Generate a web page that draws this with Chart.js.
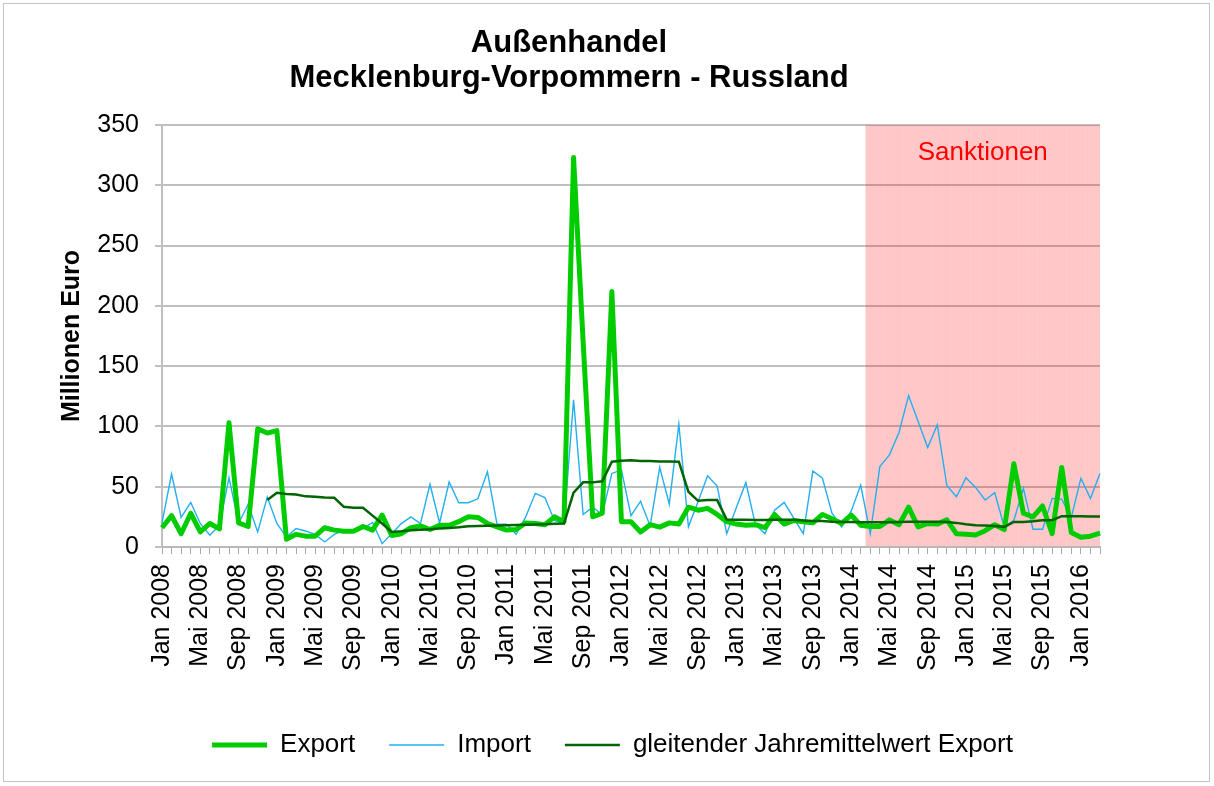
<!DOCTYPE html>
<html lang="de">
<head>
<meta charset="utf-8">
<title>Außenhandel Mecklenburg-Vorpommern - Russland</title>
<script src="https://cdn.jsdelivr.net/npm/chart.js@4.4.1/dist/chart.umd.min.js"></script>
<style>
    html, body { margin: 0; padding: 0; background: #fff; }
    #wrap { position: relative; width: 1214px; height: 786px; overflow: hidden; }
    #chart { position: absolute; left: 0; top: 0; }
    #title {
        position: absolute; left: 0; top: 24px; width: 1138px;
        text-align: center; color: #000;
        font: bold 31px/35px "Liberation Sans", Arial, sans-serif;
    }
    #frame {
        position: absolute; left: 3px; top: 3px; width: 1205px; height: 777px;
        border: 1px solid #c4c4c4; pointer-events: none;
    }
</style>
</head>
<body>
<div id="wrap">
    <canvas id="chart" width="1214" height="786"></canvas>
    <div id="title">Außenhandel<br>Mecklenburg-Vorpommern - Russland</div>
    <div id="frame"></div>
</div>
<script>
// Monate Jan 2008 - Mär 2016
const monatsNamen = ["Jan", "Feb", "Mär", "Apr", "Mai", "Jun", "Jul", "Aug", "Sep", "Okt", "Nov", "Dez"];
const jahre = [2008, 2009, 2010, 2011, 2012, 2013, 2014, 2015, 2016];
const letzterMonat = "Mär 2016";
const sanktionenAb = "Mär 2014";

const monate = [];
jahre.forEach(jahr => {
    monatsNamen.forEach(m => {
        if (monate[monate.length - 1] !== letzterMonat) monate.push(m + " " + jahr);
    });
});

// Millionen Euro
const exportWerte = [
    16, 26, 11, 28, 12.5, 19.5, 15, 103, 20, 17, 98, 94.5,
    96.5, 6.5, 10.5, 9, 9, 16, 14, 13, 13, 17, 14, 26.5,
    9.5, 11, 16, 17.5, 14.5, 18, 18, 21, 25, 24.5, 19.5, 16.7,
    14, 14.5, 20, 19.5, 18.5, 25, 21, 323, 170, 25, 28, 212,
    21, 21, 12.5, 18.5, 16.5, 20, 19, 33, 30.5, 32, 27, 21,
    19, 18, 18.5, 16, 27, 19, 22, 21, 20, 27, 23.5, 19.5,
    26.5, 18, 17, 17, 22.5, 18.5, 33, 16.7, 19.5, 19, 22.5, 11,
    10.5, 10, 13.5, 18.5, 14.5, 69, 28, 25, 34, 11, 66, 12,
    8, 9, 11.5
];

const importWerte = [
    20, 60.5, 24.5, 37, 19.5, 9.7, 18, 57.5, 19.5, 35.5, 12.5, 41.5,
    19.5, 8.3, 15.3, 13.3, 10.5, 4.2, 10.5, 14, 14, 15.3, 20.3, 2.8,
    11, 19.4, 25, 19.4, 52, 20, 54, 36.7, 36.7, 40, 62.5, 19,
    19, 10.5, 25, 44.5, 41, 22, 19, 122, 27, 33, 27, 61,
    64, 26, 38, 17.5, 66, 35.5, 102, 16.7, 37.5, 59, 50.6, 11,
    32.5, 53.5, 18.6, 11, 30.6, 37, 24, 11, 63, 57, 28, 16.7,
    29.7, 51.4, 11, 66.7, 76.4, 95, 125.6, 104, 82.5, 101.4, 51, 41.7,
    57.5, 49.4, 39, 45, 16.7, 22.2, 48.6, 14.7, 14.7, 40.3, 39.7, 24.4,
    57, 40.3, 61
];

const jahresmittelExport = [
    null, null, null, null, null, null, null, null, null, null, null, 39,
    45, 44, 43.6, 42, 41.7, 41, 40.8, 33.3, 32.5, 32.5, 26, 19.5,
    12.5, 13, 13.9, 14.4, 14.7, 15.3, 15.8, 16.4, 17.2, 17.5, 17.6, 17.8,
    18, 18.2, 18.4, 18.6, 18.8, 19.2, 19.4, 45, 53.6, 53.6, 54.5, 70.8,
    71.5, 72, 71.4, 71.3, 71, 71, 70.8, 45.8, 38.3, 38.9, 38.9, 22.8,
    22.5, 22.5, 22.3, 22.3, 22.5, 22.5, 22.5, 22, 21.5, 21.5, 21, 20.8,
    20.8, 20.5, 20.5, 20.5, 20.5, 20.7, 21, 21, 21, 21, 20.8, 20,
    18.9, 18, 17.8, 17.5, 16.7, 20.8, 20.8, 21.4, 22.2, 22.2, 25.6, 25.6,
    25.6, 25.3, 25.3
];

const yMax = 350;
const sanktionMonate = monate.slice(monate.indexOf(sanktionenAb));

Chart.defaults.font.family = '"Liberation Sans", Arial, sans-serif';
Chart.defaults.color = "#000";

const sanktionenText = {
    id: "sanktionenText",
    afterDatasetsDraw(chart) {
        const bars = chart.getDatasetMeta(3).data;
        if (!bars.length) return;
        const area = chart.chartArea;
        const left = bars[0].x - bars[0].width / 2;
        const ctx = chart.ctx;
        ctx.save();
        ctx.font = '26px "Liberation Sans", Arial, sans-serif';
        ctx.fillStyle = "#ff0000";
        ctx.textAlign = "center";
        ctx.textBaseline = "middle";
        ctx.fillText("Sanktionen", (left + area.right) / 2, area.top + 27.5);
        ctx.restore();
    }
};

const ctx = document.getElementById("chart").getContext("2d");

new Chart(ctx, {
    type: "line",
    data: {
        labels: monate,
        datasets: [
            {
                label: "Export",
                data: exportWerte,
                borderColor: "#00cc00",
                backgroundColor: "#00cc00",
                borderWidth: 5,
                borderJoinStyle: "round",
                pointRadius: 0,
                tension: 0,
                order: 1
            },
            {
                label: "Import",
                data: importWerte,
                borderColor: "#22aff0",
                backgroundColor: "#22aff0",
                borderWidth: 1.4,
                pointRadius: 0,
                tension: 0,
                order: 2
            },
            {
                label: "gleitender Jahremittelwert Export",
                data: jahresmittelExport,
                borderColor: "#006400",
                backgroundColor: "#006400",
                borderWidth: 2.5,
                pointRadius: 0,
                tension: 0,
                spanGaps: false,
                order: 0
            },
            {
                type: "bar",
                label: "Sanktionen",
                data: sanktionMonate.map(m => ({ x: m, y: yMax })),
                backgroundColor: "rgba(255, 0, 0, 0.22)",
                borderWidth: 0,
                barPercentage: 1,
                categoryPercentage: 1,
                inflateAmount: 0,
                clip: 0,
                order: 3
            }
        ]
    },
    options: {
        responsive: false,
        animation: false,
        layout: { padding: { top: 125, left: 11, right: 0, bottom: 18 } },
        plugins: {
            title: { display: false },
            tooltip: { enabled: false },
            legend: {
                position: "bottom",
                fullSize: true,
                labels: {
                    usePointStyle: true,
                    pointStyle: "line",
                    pointStyleWidth: 55,
                    padding: 34,
                    color: "#000",
                    font: { size: 26 },
                    filter: item => item.datasetIndex !== 3,
                    sort: (a, b) => a.datasetIndex - b.datasetIndex
                }
            }
        },
        scales: {
            x: {
                type: "category",
                offset: false,
                grid: {
                    offset: false,
                    drawOnChartArea: false,
                    tickLength: 7,
                    color: "#a8a8a8",
                    lineWidth: 1
                },
                border: { color: "#b8b8b8", width: 2 },
                ticks: {
                    autoSkip: false,
                    maxRotation: 90,
                    minRotation: 90,
                    padding: 10,
                    color: "#000",
                    font: { size: 25 },
                    callback: (value, index) => index % 4 === 0 ? monate[index] : ""
                },
                afterFit: scale => { scale.height = 151; }
            },
            y: {
                min: 0,
                max: yMax,
                ticks: {
                    stepSize: 50,
                    padding: 16,
                    color: "#000",
                    font: { size: 25 }
                },
                grid: { color: "#c0c0c0", lineWidth: 2, tickLength: 7 },
                border: { color: "#c0c0c0", width: 2 },
                title: {
                    display: true,
                    text: "Millionen Euro",
                    color: "#000",
                    font: { size: 25, weight: "bold" },
                    padding: { top: 46.5, bottom: 0 }
                },
                afterFit: scale => { scale.width = 151; }
            },
            rechts: {
                position: "right",
                display: true,
                grid: { display: false },
                border: { display: false },
                ticks: { display: false },
                afterFit: scale => { scale.width = 114; }
            }
        }
    },
    plugins: [sanktionenText]
});
</script>
</body>
</html>
